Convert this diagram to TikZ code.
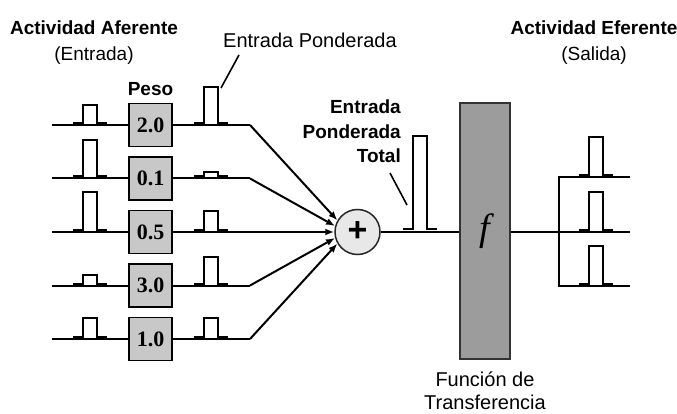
\documentclass[tikz,border=0pt]{standalone}
\usepackage{fontspec}
\setmainfont{Liberation Sans}
\newfontfamily\numfont{Liberation Serif}
\usepackage{tikz}
\definecolor{pesogray}{RGB}{200, 200, 200}
\definecolor{sumgray}{RGB}{232, 232, 232}
\definecolor{funcgray}{RGB}{156, 156, 156}
\usetikzlibrary{arrows.meta, positioning, calc}

% pulso: x, base y, height
\newcommand{\pulso}[3]{%
  \draw[pulse] (#1,#2) -- ++(10,0) -- ++(0,-#3) -- ++(14,0) -- ++(0,#3) -- ++(10,0);%
}

\begin{document}
\begin{tikzpicture}[
        x=1pt, y=-1pt,
        line/.style={draw=black, line width=2pt},
        pulse/.style={draw=black, line width=2pt, line join=miter},
        leader/.style={draw=black, line width=1.6pt},
        conn/.style={draw=black, line width=2pt, -{Latex[length=9pt, width=7pt]}},
        peso/.style={rectangle, draw=black, line width=1.6pt, fill=pesogray, minimum width=43pt, minimum height=43pt, inner sep=0pt, font=\numfont\bfseries\fontsize{22}{22}\selectfont},
        txt/.style={inner sep=0pt, font=\fontsize{20}{24}\selectfont}
    ]
        \useasboundingbox (0,0) rectangle (677,414);

        % sumador y funcion de transferencia
        \node[circle, draw=black!85, line width=1.5pt, fill=sumgray, minimum size=45pt, inner sep=0pt, font=\bfseries\fontsize{34}{34}\selectfont] (sum) at (357.5,232) {+};
        \node[rectangle, draw=black!80, line width=1.5pt, fill=funcgray, minimum width=50pt, minimum height=256pt, inner sep=0pt, font=\numfont\itshape\fontsize{38}{38}\selectfont] (func) at (485,231) {f};

        % entradas, pesos y entradas ponderadas
        \foreach \y/\w/\hin/\hout/\ang [count=\i] in {125/2.0/18/36/150, 178.5/0.1/36/4/165, 232/0.5/38/19/180, 285.5/3.0/9/27/195, 339/1.0/19/19/210} {
            \node[peso] (w\i) at (150.5,\y) {\w};
            \coordinate (in\i) at (52,\y);
            \coordinate (j\i) at (250,\y);
            \draw[line] (in\i) -- (w\i);
            \draw[line] (w\i) -- (j\i);
            \draw[conn] (j\i) -- (sum.\ang);
            \pulso{73}{\y-2}{\hin}
            \pulso{194}{\y-2}{\hout}
        }

        % salida
        \coordinate (s1) at (559,177);
        \coordinate (s3) at (559,286);
        \coordinate (o1) at (630,177);
        \coordinate (o2) at (630,232);
        \coordinate (o3) at (630,286);
        \draw[line] (sum.east) -- (sum.east -| func.west);
        \draw[line] (sum.east -| func.east) -- (o2);
        \draw[line] (o1) -- (s1) -- (s3) -- (o3);
        \pulso{403}{229}{93}
        \pulso{579}{175}{38}
        \pulso{579}{230}{38}
        \pulso{579}{284}{38}

        % textos
        \node[txt, align=center, font=\fontsize{19}{26}\selectfont] (afer) at (94,43) {\bfseries Actividad Aferente\\(Entrada)};
        \node[txt, align=center, font=\fontsize{19}{26}\selectfont] (efer) at (594,43) {\bfseries Actividad Eferente\\(Salida)};
        \node[txt, font=\bfseries\fontsize{19}{19}\selectfont, above=7pt of w1] (pesolbl) {Peso};
        \node[txt, anchor=west] (pond) at (223,40) {Entrada Ponderada};
        \node[txt, align=right, anchor=north east, font=\bfseries\fontsize{19}{24.5}\selectfont] (total) at (401,100) {Entrada\\Ponderada\\Total};
        \node[txt, align=center, anchor=north, font=\fontsize{20}{23}\selectfont] (ftrans) at (485,372) {Función de\\Transferencia};

        % lineas indicadoras
        \coordinate (lp1) at (239,55);
        \coordinate (lp2) at (221,88);
        \coordinate (lt1) at (390,173);
        \coordinate (lt2) at (407,205);
        \draw[leader] (lp1) -- (lp2);
        \draw[leader] (lt1) -- (lt2);
    \end{tikzpicture}
\end{document}
